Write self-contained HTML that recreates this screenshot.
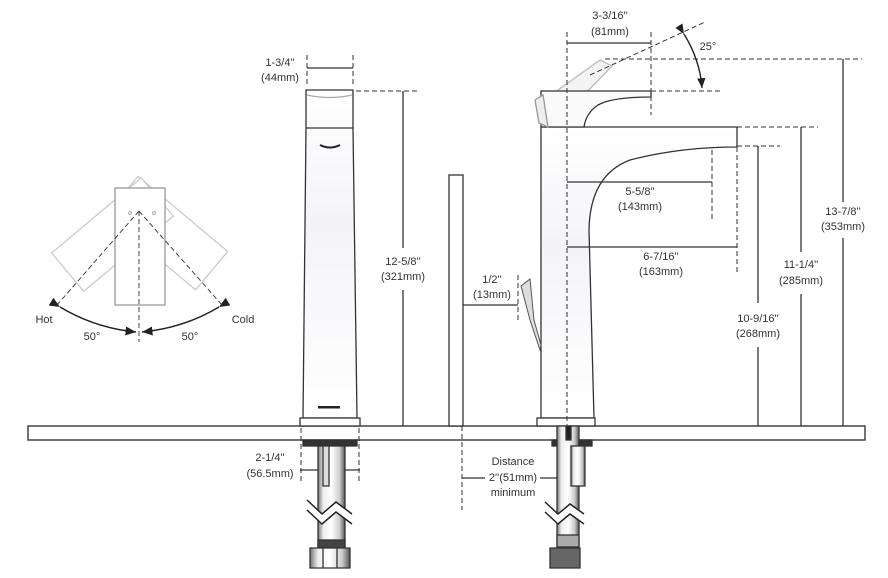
<!DOCTYPE html>
<html><head><meta charset="utf-8"><style>
html,body{margin:0;padding:0;background:#fff;}
svg{display:block;}
text{font-family:"Liberation Sans",sans-serif;font-size:11px;fill:#333;text-anchor:middle;}
</style></head><body>
<svg width="888" height="578" viewBox="0 0 888 578" xmlns="http://www.w3.org/2000/svg">
<defs>
<linearGradient id="ch" x1="0" x2="1"><stop offset="0" stop-color="#777"/><stop offset="0.2" stop-color="#eee"/><stop offset="0.5" stop-color="#fff"/><stop offset="0.8" stop-color="#ccc"/><stop offset="1" stop-color="#555"/></linearGradient>
<linearGradient id="bd" x1="0" y1="0" x2="0" y2="1"><stop offset="0" stop-color="#fff"/><stop offset="0.4" stop-color="#f4f4f8"/><stop offset="1" stop-color="#fff"/></linearGradient>
<marker id="ar" markerWidth="8" markerHeight="8" refX="7" refY="4" orient="auto"><path d="M0,1 L7,4 L0,7 Z" fill="#222"/></marker>
</defs>
<g stroke="#333" fill="none" stroke-width="1.3">
<rect x="28" y="426" width="837" height="14" fill="#fff" stroke="#444" stroke-width="1.5"/>

<g transform="rotate(-50 139 211)"><rect x="115" y="188" width="50" height="117" stroke="#ccc" fill="#fff"/></g>
<g transform="rotate(50 139 211)"><rect x="115" y="188" width="50" height="117" stroke="#ccc" fill="#fff"/></g>
<rect x="115" y="188" width="50" height="117" stroke="#999" fill="#fff"/>
<circle cx="130" cy="213" r="1.5" stroke="#bbb"/><circle cx="154" cy="213" r="1.5" stroke="#bbb"/>
<g stroke-dasharray="5,3" stroke="#444" stroke-width="1">
<line x1="139" y1="211" x2="57" y2="305"/><line x1="139" y1="211" x2="222" y2="305"/><line x1="139" y1="211" x2="139" y2="342"/>
</g>
<path d="M60,307 Q95,328 136,332" stroke="#222" stroke-width="1.5" marker-start="url(#ar)" marker-end="url(#ar)"/>
<path d="M219,307 Q184,328 142,332" stroke="#222" stroke-width="1.5" marker-start="url(#ar)" marker-end="url(#ar)"/>

<path d="M306,90 L353,90 L353,128 L357,418 L303,418 L306,128 Z" fill="url(#bd)" stroke="#333"/>
<line x1="306" y1="128" x2="353" y2="128"/>
<path d="M307,95 Q330,100 352,95" stroke="#aaa"/>
<path d="M320,145 Q330,150 340,145" stroke="#222" stroke-width="2"/>
<rect x="300" y="418" width="60" height="8" fill="#fff"/>
<rect x="318" y="406" width="22" height="2.5" fill="#222" stroke="none"/>
<g stroke-dasharray="5,3" stroke-width="1">
<line x1="307" y1="55" x2="307" y2="86"/><line x1="353" y1="55" x2="353" y2="86"/>
<line x1="356" y1="91" x2="420" y2="91"/>
<line x1="301" y1="428" x2="301" y2="482"/><line x1="359" y1="428" x2="359" y2="482"/>
<line x1="462" y1="426" x2="462" y2="510"/>
<line x1="518" y1="275" x2="518" y2="320"/>
</g>
<line x1="307" y1="68" x2="353" y2="68"/>
<line x1="403" y1="91" x2="403" y2="248"/><line x1="403" y1="290" x2="403" y2="426"/>
<line x1="300" y1="470" x2="360" y2="470"/>
<line x1="463" y1="305" x2="518" y2="305"/>
<line x1="462" y1="478" x2="485" y2="478"/><line x1="540" y1="478" x2="567" y2="478"/>
<rect x="449" y="175" width="14" height="251" fill="#fff"/>

<rect x="303" y="440" width="54" height="6" fill="#333"/>
<rect x="318" y="446" width="27" height="104" fill="url(#ch)"/>
<rect x="323" y="446" width="6" height="40" fill="#ddd"/>
<rect x="318" y="540" width="27" height="8" fill="#444"/>
<path d="M310,548 h40 v20 h-40 Z" fill="url(#ch)" stroke="#333"/>
<line x1="323" y1="548" x2="323" y2="568"/><line x1="337" y1="548" x2="337" y2="568"/>
<path d="M307,500 L322,514 L336,502 L352,514 L352,524 L336,512 L322,524 L307,510 Z" fill="#fff" stroke="none"/>
<path d="M307,500 L322,514 L336,502 L352,514 M307,510 L322,524 L336,512 L352,524" stroke="#222" stroke-width="1.5"/>

<path d="M541,127 L737,127 L737,147 Q680,147 630,160 Q590,175 589,230 L594,418 L541,418 Z" fill="url(#bd)" stroke="#333"/>
<rect x="537" y="418" width="58" height="8" fill="#fff"/>
<path d="M545,110 L558,90 L600,60 L612,66 L560,120 Z" stroke="#bbb" fill="#f4f4f4"/>
<path d="M541,91 L651,91 L651,97 Q612,97 598,105 Q586,113 584,127 L541,127 Z" fill="#fafafa" stroke="#333"/>
<path d="M535,100 L543,95 L548,127 L539,123 Z" stroke="#999" fill="#eee"/>
<path d="M521,286 L530,279 L534,320 L541,345 L540,350 L530,320 Z" fill="#ddd" stroke="#555" stroke-width="1"/>
<g stroke-dasharray="5,3" stroke-width="1">
<line x1="567" y1="32" x2="567" y2="425"/>
<line x1="651" y1="32" x2="651" y2="115"/>
<line x1="590" y1="75" x2="705" y2="22"/>
<line x1="651" y1="91" x2="722" y2="91"/>
<line x1="605" y1="59" x2="862" y2="59"/>
<line x1="705" y1="127" x2="818" y2="127"/>
<line x1="737" y1="146" x2="780" y2="146"/>
<line x1="712" y1="150" x2="712" y2="222"/>
<line x1="737" y1="147" x2="737" y2="272"/>
</g>
<line x1="567" y1="43" x2="651" y2="43"/>
<path d="M684,34 Q700,60 702,88" stroke="#222" stroke-width="1.4" marker-start="url(#ar)" marker-end="url(#ar)"/>
<line x1="843" y1="59" x2="843" y2="202"/><line x1="843" y1="238" x2="843" y2="426"/>
<line x1="801" y1="127" x2="801" y2="252"/><line x1="801" y1="294" x2="801" y2="426"/>
<line x1="758" y1="146" x2="758" y2="303"/><line x1="758" y1="347" x2="758" y2="426"/>
<line x1="567" y1="182" x2="712" y2="182"/>
<line x1="567" y1="247" x2="737" y2="247"/>

<rect x="552" y="440" width="40" height="6" fill="#333"/>
<rect x="557" y="426" width="22" height="124" fill="url(#ch)"/>
<rect x="566" y="426" width="5" height="14" fill="#222"/>
<rect x="571" y="446" width="14" height="40" fill="url(#ch)"/>
<rect x="557" y="535" width="22" height="12" fill="#aaa"/>
<path d="M550,548 h30 v20 h-30 Z" fill="#666" stroke="#333"/>
<path d="M545,502 L558,514 L570,504 L584,514 L584,524 L570,514 L558,524 L545,512 Z" fill="#fff" stroke="none"/>
<path d="M545,502 L558,514 L570,504 L584,514 M545,512 L558,524 L570,514 L584,524" stroke="#222" stroke-width="1.5"/>
</g>

<g>
<text x="44" y="323">Hot</text>
<text x="92" y="340">50°</text>
<text x="190" y="340">50°</text>
<text x="243" y="323">Cold</text>
<text x="280" y="66">1-3/4''</text>
<text x="280" y="81">(44mm)</text>
<text x="403" y="265">12-5/8''</text>
<text x="403" y="280">(321mm)</text>
<text x="492" y="283">1/2''</text>
<text x="492" y="298">(13mm)</text>
<text x="270" y="461">2-1/4''</text>
<text x="270" y="477">(56.5mm)</text>
<text x="513" y="465">Distance</text>
<text x="513" y="481">2''(51mm)</text>
<text x="513" y="496">minimum</text>
<text x="610" y="19">3-3/16''</text>
<text x="610" y="35">(81mm)</text>
<text x="708" y="50">25°</text>
<text x="843" y="215">13-7/8''</text>
<text x="843" y="230">(353mm)</text>
<text x="801" y="268">11-1/4''</text>
<text x="801" y="284">(285mm)</text>
<text x="758" y="322">10-9/16''</text>
<text x="758" y="337">(268mm)</text>
<text x="640" y="195">5-5/8''</text>
<text x="640" y="210">(143mm)</text>
<text x="661" y="260">6-7/16''</text>
<text x="661" y="275">(163mm)</text>
</g>
</svg>
</body></html>
